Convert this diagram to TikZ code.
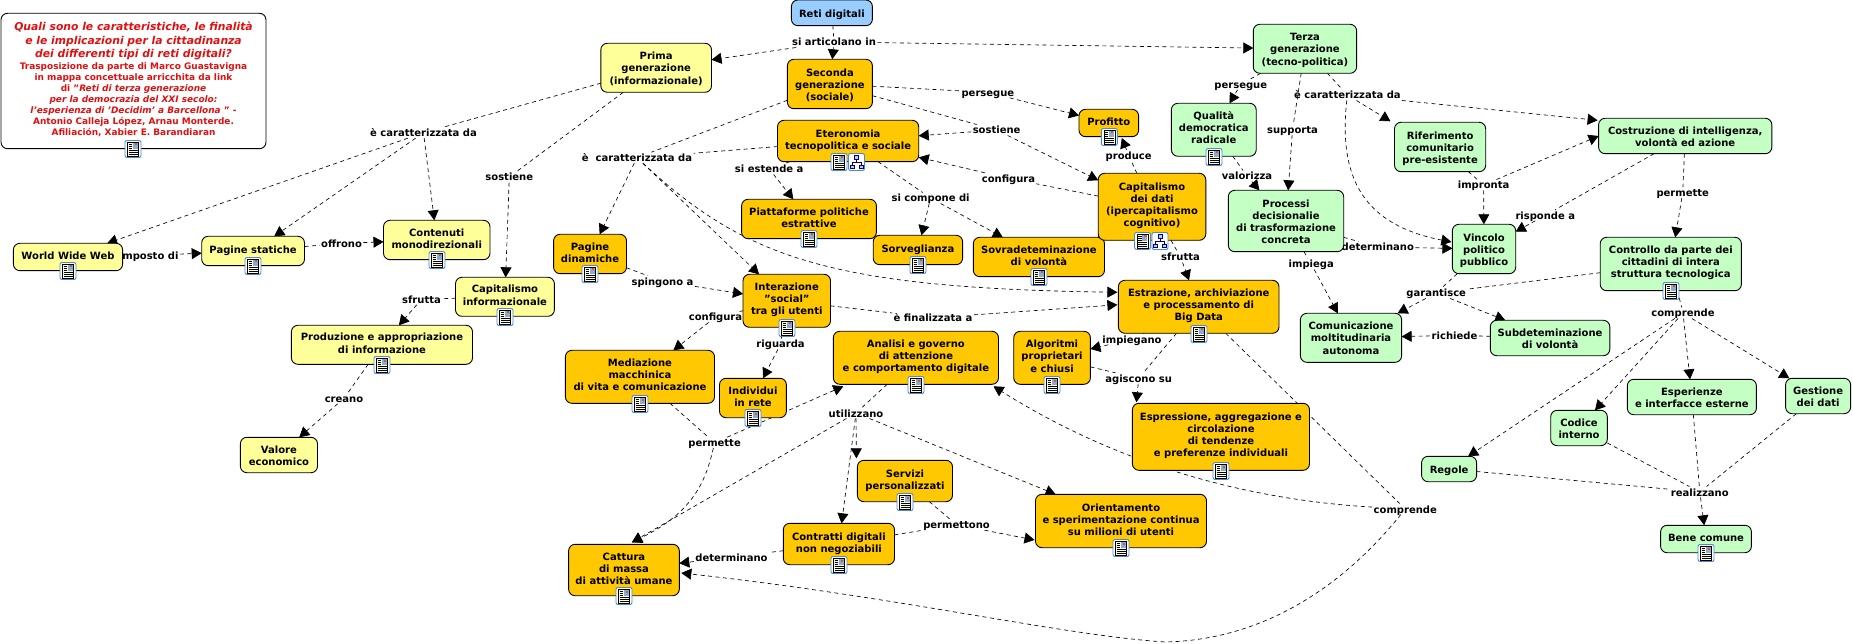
\documentclass[tikz,border=0pt]{standalone}
\usepackage{fontspec}
\setmainfont{DejaVu Sans}
\usetikzlibrary{arrows.meta,calc}
\pgfdeclarelayer{lab}
\pgfdeclarelayer{edge}
\pgfsetlayers{lab,edge,main}
\definecolor{cyel}{HTML}{FFFF99}
\definecolor{corg}{HTML}{FFC800}
\definecolor{cgrn}{HTML}{C4FFC4}
\definecolor{cblu}{HTML}{99CCFF}
\definecolor{cred}{HTML}{E01010}
\definecolor{cicon}{HTML}{4A8AD0}
\newcommand\cfont{\fontsize{10}{12.1}\selectfont\bfseries}
\tikzset{
  x=1pt,y=-1pt,
  concept/.style={draw=black,line width=0.9pt,rounded corners=6.5pt,inner sep=0pt,outer sep=0pt,font=\cfont,text=black},
  yel/.style={fill=cyel}, org/.style={fill=corg}, grn/.style={fill=cgrn}, blu/.style={fill=cblu}, wht/.style={fill=white},
  lbl/.style={inner xsep=1.5pt,inner ysep=0.5pt,outer sep=0pt,font=\cfont,text height=9pt,text depth=1pt,text=black},
  lk/.style={draw=black,line width=0.65pt,dash pattern=on 4pt off 3.5pt},
  ar/.style={lk,-{Triangle[length=10pt,width=11pt]}},
  docicon/.pic={
    \draw[cicon,line width=0.9pt,fill=white,rounded corners=2pt] (-8,-8.5) rectangle (8,8.5);
    \draw[black,line width=0.6pt,fill=yellow!12] (-5.5,-7) rectangle (5.5,7);
    \foreach \yy in {-4.5,-2.5,-0.5}{\draw[black,line width=0.6pt] (-4.5,\yy) -- (-1,\yy);}
    \foreach \yy in {1.5,3.5,5.5}{\draw[black,line width=0.6pt] (-4.5,\yy) -- (4.5,\yy);}
    \fill[cicon!70] (-0.3,-6.3) rectangle (4.8,-0.2);
    \fill[orange!60!red] (1.5,-5.5) rectangle (4,-3.5);
  },
  mapicon/.pic={
    \draw[cicon,line width=0.9pt,fill=white,rounded corners=2pt] (-8,-8.5) rectangle (8,8.5);
    \draw[blue!50!black,line width=0.6pt] (0,-3) -- (0,0) (-4.5,0) -- (4.5,0) (-4.5,0) -- (-4.5,3) (4.5,0) -- (4.5,3);
    \draw[blue!50!black,line width=0.6pt,fill=cicon!40] (-2.2,-6.5) rectangle (2.2,-3);
    \draw[blue!50!black,line width=0.6pt,fill=cicon!40] (-6.5,3) rectangle (-2.5,6.5);
    \draw[blue!50!black,line width=0.6pt,fill=cicon!40] (2.5,3) rectangle (6.5,6.5);
  }
}
% name x0 y0 x1 y1 style extra-depth text
\newcommand\cn[8]{%
  \pgfmathsetmacro\cx{(#2+#4)/2}\pgfmathsetmacro\cy{(#3+#5)/2}%
  \pgfmathsetmacro\cw{#4-#2}\pgfmathsetmacro\ch{#5-#3}%
  \node[concept,#6,minimum width=\cw pt,minimum height=\ch pt] (#1) at (\cx,\cy)
    {\raisebox{0pt}[\height][\dimexpr\depth+#7pt-3.5pt\relax]{\begin{tabular}{@{}c@{}}#8\end{tabular}}};}
\newcommand\lb[4]{\node[lbl] (#1) at (#2,#3) {#4};}
\newcommand\tbig[1]{\rule[-3.6pt]{0pt}{13.3pt}{\color{cred}\fontsize{10.8}{13.3}\selectfont\bfseries\itshape #1}}
\newcommand\tsml[1]{\rule[-2.8pt]{0pt}{11pt}{\color{cred}\fontsize{8.95}{11}\selectfont\bfseries #1}}
\newcommand\tit[1]{\textit{#1}}
\begin{document}
\begin{tikzpicture}
\useasboundingbox (0,0) rectangle (1853,644);
% ---------- linking phrases
\begin{pgfonlayer}{lab}
\lb{lart}{834}{42}{si articolano in}
\lb{lc1}{423.5}{132.7}{è caratterizzata da}
\lb{ls1}{509.3}{177}{sostiene}
\lb{lcom}{144}{255.7}{composto di}
\lb{loff}{341.6}{243.3}{offrono}
\lb{lsf1}{421.5}{299.3}{sfrutta}
\lb{lcre}{344}{398.3}{creano}
\lb{lc2}{637}{157.7}{è\ \ caratterizzata da}
\lb{lspi}{662.5}{281.3}{spingono a}
\lb{lest}{769.2}{169}{si estende a}
\lb{lsic}{930.6}{198}{si compone di}
\lb{ls2}{996.6}{130}{sostiene}
\lb{lpe2}{987.9}{92.3}{persegue}
\lb{lcf2}{1008.5}{178.3}{configura}
\lb{lpro}{1128.7}{155.3}{produce}
\lb{lsf2}{1180.5}{257}{sfrutta}
\lb{lfin}{933}{317.7}{è finalizzata a}
\lb{lcf1}{715.5}{317}{configura}
\lb{lrig}{780.6}{344}{riguarda}
\lb{limg}{1132}{339.3}{impiegano}
\lb{lagi}{1138.7}{378.3}{agiscono su}
\lb{luti}{856}{413}{utilizzano}
\lb{lpm1}{714.6}{442.7}{permette}
\lb{lpmo}{956.5}{524.7}{permettono}
\lb{ldt1}{731.5}{557}{determinano}
\lb{lcp1}{1405.3}{509}{comprende}
\lb{lpe3}{1240.8}{84.3}{persegue}
\lb{lsup}{1292.5}{129.7}{supporta}
\lb{lc3}{1347.4}{95}{è caratterizzata da}
\lb{lval}{1247}{176}{valorizza}
\lb{limp}{1483.6}{185}{impronta}
\lb{lris}{1545.3}{215.3}{risponde a}
\lb{lpm2}{1682.7}{192.7}{permette}
\lb{ldt2}{1377.8}{247}{determinano}
\lb{limg2}{1311.2}{264}{impiega}
\lb{lgar}{1436.2}{293}{garantisce}
\lb{lcp2}{1683}{313}{comprende}
\lb{lric}{1454.5}{335.3}{richiede}
\lb{lrea}{1699.8}{492}{realizzano}
\end{pgfonlayer}
% ---------- title
\node[concept,wht,minimum width=265pt,minimum height=135.4pt] (title) at (133.5,81) {%
  \def\arraystretch{0}\raisebox{0pt}[\height][\dimexpr\depth+3pt\relax]{\begin{tabular}{@{}c@{}}
  \tbig{Quali sono le caratteristiche, le finalità}\\
  \tbig{e le implicazioni per la cittadinanza}\\
  \tbig{dei differenti tipi di reti digitali?}\\
  \tsml{Trasposizione da parte di Marco Guastavigna}\\
  \tsml{in mappa concettuale arricchita da link}\\
  \tsml{di "\tit{Reti di terza generazione}}\\
  \tsml{\tit{per la democrazia del XXI secolo:}}\\
  \tsml{\tit{l'esperienza di 'Decidim' a Barcellona }" -}\\
  \tsml{Antonio Calleja López, Arnau Monterde.}\\
  \tsml{Afiliación, Xabier E. Barandiaran}
  \end{tabular}}};
% ---------- concepts
\cn{reti}{791.4}{0}{872.4}{25.7}{blu}{0}{Reti digitali}
\cn{prima}{600.8}{43.3}{711.5}{92.3}{yel}{0}{Prima\\generazione\\(informazionale)}
\cn{www}{13.4}{243.3}{122.6}{270.7}{yel}{4}{World Wide Web}
\cn{stat}{201.7}{236.3}{304.5}{265.7}{yel}{4}{Pagine statiche}
\cn{cont}{383.5}{220.3}{490}{259.7}{yel}{4}{Contenuti\\monodirezionali}
\cn{capinf}{455.5}{277.3}{554.4}{316.3}{yel}{4}{Capitalismo\\informazionale}
\cn{prod}{291.4}{325.3}{472.5}{364.3}{yel}{4}{Produzione e appropriazione\\di informazione}
\cn{val}{240.4}{437.3}{317.5}{472.7}{yel}{0}{Valore\\economico}
\cn{din}{553.6}{234.3}{626.5}{273.7}{org}{4}{Pagine\\dinamiche}
\cn{sec}{787.4}{59.3}{872.4}{108.7}{org}{0}{Seconda\\generazione\\(sociale)}
\cn{eter}{777.5}{120.3}{918.7}{161.7}{org}{4}{Eteronomia\\tecnopolitica e sociale}
\cn{piat}{741.6}{199.3}{876.4}{238.7}{org}{4}{Piattaforme politiche\\estrattive}
\cn{sorv}{873.2}{235.3}{962.6}{264.7}{org}{4}{Sorveglianza}
\cn{sovr}{973.3}{237.3}{1104.5}{276.7}{org}{4}{Sovradeteminazione\\di volontà}
\cn{inter}{743}{274.3}{830.5}{327.3}{org}{5}{Interazione\\"social"\\tra gli utenti}
\cn{prof}{1079}{109.3}{1138.6}{136.7}{org}{4}{Profitto}
\cn{cdati}{1098.2}{173.3}{1205.8}{240.3}{org}{5}{Capitalismo\\dei dati\\(ipercapitalismo\\cognitivo)}
\cn{estr}{1118.4}{280.3}{1279}{333.3}{org}{5}{Estrazione, archiviazione\\e processamento di\\Big Data}
\cn{med}{565.4}{350.3}{714.5}{403.3}{org}{5}{Mediazione\\macchinica\\di vita e comunicazione}
\cn{catt}{568.6}{544.3}{679.3}{595.7}{org}{3}{Cattura\\di massa\\di attività umane}
\cn{ind}{719.5}{378.3}{786.4}{417.7}{org}{4}{Individui\\in rete}
\cn{ana}{833.3}{331.3}{998.5}{384.3}{org}{5}{Analisi e governo\\di attenzione\\e comportamento digitale}
\cn{alg}{1013.7}{331.3}{1090.4}{384.3}{org}{4}{Algoritmi\\proprietari\\e chiusi}
\cn{esp}{1132.4}{403.3}{1309.5}{470.3}{org}{5}{Espressione, aggregazione e\\circolazione\\di tendenze\\e preferenze individuali}
\cn{serv}{857.4}{460.3}{952.5}{501.7}{org}{4}{Servizi\\personalizzati}
\cn{contr}{783.3}{523.3}{894.5}{564.7}{org}{4}{Contratti digitali\\non negoziabili}
\cn{ori}{1035.5}{494.3}{1206.5}{547.7}{org}{4}{Orientamento\\e sperimentazione continua\\su milioni di utenti}
\cn{terza}{1253.3}{24.3}{1356.6}{73.3}{grn}{0}{Terza\\generazione\\(tecno-politica)}
\cn{qual}{1171.4}{103.3}{1256.2}{156.3}{grn}{5}{Qualità\\democratica\\radicale}
\cn{proc}{1228.3}{190.3}{1343.7}{251.7}{grn}{0}{Processi\\decisionalie\\di trasformazione\\concreta}
\cn{rif}{1394.5}{122.3}{1485.7}{171.7}{grn}{0}{Riferimento\\comunitario\\pre-esistente}
\cn{cost}{1598.6}{118.3}{1771.8}{153.7}{grn}{0}{Costruzione di intelligenza,\\volontà ed azione}
\cn{vinc}{1452.4}{224.3}{1515.7}{273.7}{grn}{0}{Vincolo\\politico\\pubblico}
\cn{ctrl}{1600.2}{237.3}{1741.4}{290.7}{grn}{5}{Controllo da parte dei\\cittadini di intera\\struttura tecnologica}
\cn{com}{1300.4}{313.3}{1401.6}{362.3}{grn}{0}{Comunicazione\\moltitudinaria\\autonoma}
\cn{sub}{1490.3}{320.3}{1609.8}{355.7}{grn}{0}{Subdeteminazione\\di volontà}
\cn{espe}{1627.3}{379.3}{1756.4}{414.7}{grn}{0}{Esperienze\\e interfacce esterne}
\cn{gest}{1785.6}{378.3}{1850.6}{413.7}{grn}{0}{Gestione\\dei dati}
\cn{cod}{1550.7}{410.3}{1607.3}{445.7}{grn}{0}{Codice\\interno}
\cn{reg}{1421.6}{456.3}{1476.6}{481.7}{grn}{0}{Regole}
\cn{bene}{1660.6}{525.3}{1751.4}{552.7}{grn}{4}{Bene comune}
% ---------- connectors
\begin{pgfonlayer}{edge}
\draw[lk] (reti) -- (lart);
\draw[ar] (lart) -- (prima);
\draw[ar] (lart) -- (sec);
\draw[ar] (lart) -- (terza);
\draw[lk] (prima) -- (lc1);
\draw[ar] (lc1) -- (www);
\draw[ar] (lc1) -- (stat);
\draw[ar] (lc1) -- (cont);
\draw[lk] (prima) -- (ls1);
\draw[ar] (ls1) -- (capinf);
\draw[lk] (www) -- (lcom);
\draw[ar] (lcom) -- (stat);
\draw[lk] (stat) -- (loff);
\draw[ar] (loff) -- (cont);
\draw[lk] (capinf) -- (lsf1);
\draw[ar] (lsf1) -- (prod);
\draw[lk] (prod) -- (lcre);
\draw[ar] (lcre) -- (val);
\draw[lk] (sec) -- (lc2);
\draw[lk] (eter) -- (lc2);
\draw[ar] (lc2) -- (din);
\draw[ar] (lc2) -- (inter);
\draw[ar] (lc2) .. controls (745,258) and (830,288) .. ($(estr.west)+(-1,-14.5)$);
\draw[lk] (din) -- (lspi);
\draw[ar] (lspi) -- (inter);
\draw[lk] (sec) -- (ls2);
\draw[ar] (ls2) -- (eter);
\draw[ar] (ls2) -- (cdati);
\draw[lk] (sec) -- (lpe2);
\draw[ar] (lpe2) -- (prof);
\draw[lk] (cdati) -- (lcf2);
\draw[ar] (lcf2) -- (eter);
\draw[lk] (cdati) -- (lpro);
\draw[ar] (lpro) -- ($(prof)+(13,15)$);
\draw[lk] (cdati) -- (lsf2);
\draw[ar] (lsf2) -- (estr);
\draw[lk] (eter) -- (lest);
\draw[ar] (lest) -- (piat);
\draw[lk] (eter) -- (lsic);
\draw[ar] (lsic) -- (sorv);
\draw[ar] (lsic) -- (sovr);
\draw[lk] (inter) -- (lfin);
\draw[ar] (lfin) -- ($(estr.west)+(-1,-2)$);
\draw[lk] (inter) -- (lcf1);
\draw[ar] (lcf1) -- (med);
\draw[lk] (inter) -- (lrig);
\draw[ar] (lrig) -- (ind);
\draw[lk] (estr) -- (limg);
\draw[ar] (limg) -- (alg);
\draw[lk] (estr) -- (lagi);
\draw[lk] (alg) -- (lagi);
\draw[ar] (lagi) -- ($(esp.north west)+(4,-1)$);
\draw[lk] (ana) -- (luti);
\draw[ar] (luti) -- ($(serv.north west)+(-1,-2)$);
\draw[ar] (luti) -- (contr);
\draw[ar] (luti) -- (ori);
\draw[ar] (luti) -- ($(catt.north)+(8,-2)$);
\draw[lk] (med) -- (lpm1);
\draw[ar] (lpm1) -- ($(ana.south west)+(10,2)$);
\draw[ar] (lpm1) .. controls (706,480) and (694,512) .. ($(catt.north)+(8,-2)$);
\draw[lk] (serv) -- (lpmo);
\draw[lk] (contr) -- (lpmo);
\draw[ar] (lpmo) -- ($(ori.south west)+(-1,-7.7)$);
\draw[lk] (contr) -- (ldt1);
\draw[ar] (ldt1) -- (catt);
\draw[lk] (estr) -- (lcp1);
\draw[ar] (lcp1) .. controls (1250,500) and (1120,466) .. ($(ana.south east)+(-5,2)$);
\draw[ar] (lcp1) .. controls (1340,590) and (1260,640) .. (1165,642) .. controls (1060,635) and (900,597) .. ($(catt.east)+(2,3)$);
\draw[lk] (terza) -- (lpe3);
\draw[ar] (lpe3) -- (qual);
\draw[lk] (qual) -- (lval);
\draw[ar] (lval) -- (proc);
\draw[lk] (terza) -- (lsup);
\draw[ar] (lsup) -- (proc);
\draw[lk] (terza) -- (lc3);
\draw[ar] (lc3) -- ($(rif.north west)+(-4,-1)$);
\draw[ar] (lc3) -- ($(cost.north west)+(-1,2)$);
\draw[ar] (lc3) .. controls (1338,180) and (1365,225) .. ($(vinc.west)+(-1,-7)$);
\draw[lk] (rif) -- (limp);
\draw[ar] (limp) -- (vinc);
\draw[ar] (limp) -- (cost.west);
\draw[lk] (cost) -- (lris);
\draw[ar] (lris) -- (vinc);
\draw[lk] (cost) -- (lpm2);
\draw[ar] (lpm2) -- (ctrl);
\draw[lk] (proc) -- (ldt2);
\draw[ar] (ldt2) -- (vinc);
\draw[lk] (proc) -- (limg2);
\draw[ar] (limg2) -- (com);
\draw[lk] (vinc) -- (lgar);
\draw[lk] (ctrl) -- (lgar);
\draw[ar] (lgar) -- (com);
\draw[ar] (lgar) -- (sub);
\draw[lk] (sub) -- (lric);
\draw[ar] (lric) -- (com);
\draw[lk] (ctrl) -- (lcp2);
\draw[ar] (lcp2) -- (reg);
\draw[ar] (lcp2) -- (cod);
\draw[ar] (lcp2) -- (espe);
\draw[ar] (lcp2) -- (gest);
\draw[lk] (cod) -- (lrea);
\draw[lk] (espe) -- (lrea);
\draw[lk] (gest) -- (lrea);
\draw[lk] (reg) -- (lrea);
\draw[ar] (lrea) -- (bene);
\end{pgfonlayer}
% ---------- resource icons
\foreach \ix/\iy in {133/149,68/271,253/266,437/260,505/317,382/365,590/274,640/404,624/596,753/418,916/385,1052/385,1221/471,905/502,839/565,1121/548,839/162,809/239,918/265,1039/277,787/328,1109.3/137,1142.5/241,1199/334,1214/157,1671/291,1706/553}{
  \pic at (\ix,\iy) {docicon};
}
\pic at (856.5,162) {mapicon};
\pic at (1160,241) {mapicon};
\end{tikzpicture}
\end{document}
